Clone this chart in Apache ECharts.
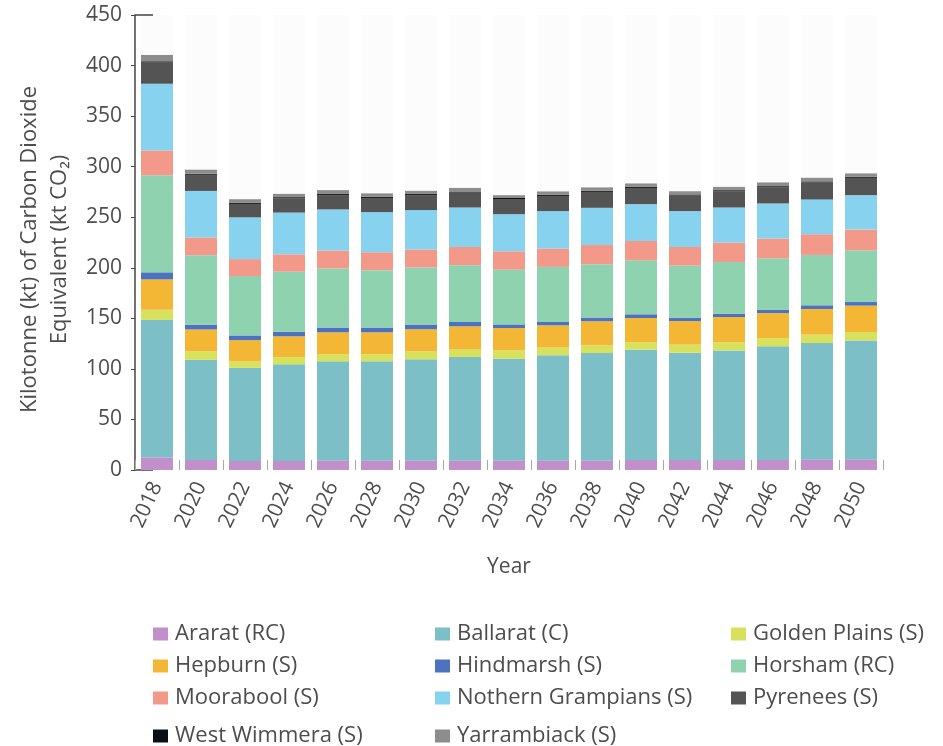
<!DOCTYPE html>
<html>
<head>
<meta charset="utf-8">
<script src="https://cdn.jsdelivr.net/npm/echarts@6/dist/echarts.min.js"></script>
<style>
  html, body { margin: 0; padding: 0; background: #fff; }
  #main { width: 943px; height: 746px; }
</style>
</head>
<body>
<div id="main"></div>
<script>
const years = ["2018", "2020", "2022", "2024", "2026", "2028", "2030", "2032", "2034",
  "2036", "2038", "2040", "2042", "2044", "2046", "2048", "2050"];

const ararat = [12.5, 10, 9, 9, 9.5, 9.5, 9.5, 9.5, 9.5, 9.5, 9.5, 10, 10, 10, 10, 10.5, 10.5];
const ballarat = [136, 99, 92, 95.5, 98, 98, 100, 102.3, 100.7, 104, 106.2, 109, 106, 108.3, 112.3, 115, 117.7];
const goldenPlains = [10, 8.3, 6.6, 7.2, 7, 7, 7.9, 7.3, 8.2, 7.6, 7.7, 7.5, 8, 8.2, 8.2, 8.4, 8.2];
const hepburn = [30, 21.7, 20.8, 20.5, 21.7, 21.7, 21.8, 23, 22, 22, 23.7, 23.8, 23.3, 24.8, 24.7, 25.3, 26.2];
const hindmarsh = [7, 4.8, 4.7, 4.5, 4.7, 4.7, 4.7, 4.3, 3.6, 3.3, 3.7, 3.7, 3.4, 3.4, 3.4, 3.7, 3.5];
const horsham = [96, 68.6, 58.7, 59.4, 58.4, 56.7, 56.4, 56.2, 54.2, 54.5, 52.8, 53.4, 51.5, 51, 50.8, 49.8, 51.2];
const moorabool = [24.5, 17.6, 16.8, 17.2, 17.8, 17.8, 17.8, 18, 18.1, 18.2, 18.9, 19.1, 18.4, 19.3, 19.5, 20.5, 20.5];
const northernGrampians = [66, 46, 41.3, 41.3, 40.6, 39.7, 39, 39, 36.7, 37, 36.8, 36.4, 35.4, 34.6, 34.7, 34.3, 34];
const pyrenees = [21, 16, 13.3, 14.2, 14.2, 14, 14.8, 14.8, 15, 15, 15.8, 16.1, 15.5, 16.1, 16.1, 16.9, 17.2];
const westWimmera = [1.2, 1, 1, 1, 1, 1, 1, 1, 1, 1, 1, 1, 1, 1, 1, 1, 1];
const yarrambiack = [6.3, 4, 3.6, 3.3, 3.9, 3.5, 3.2, 3.6, 2.8, 3.4, 3.4, 3.4, 3.2, 3.3, 3.7, 3.6, 3.3];

const seriesNames = ["Ararat (RC)", "Ballarat (C)", "Golden Plains (S)", "Hepburn (S)", "Hindmarsh (S)",
  "Horsham (RC)", "Moorabool (S)", "Nothern Grampians (S)", "Pyrenees (S)", "West Wimmera (S)", "Yarrambiack (S)"];
const seriesData = [ararat, ballarat, goldenPlains, hepburn, hindmarsh, horsham, moorabool,
  northernGrampians, pyrenees, westWimmera, yarrambiack];
const colors = ["#c18fc9", "#7dbfc7", "#d7e15c", "#f3b635", "#4d72c0", "#8fd2b0", "#f3998a",
  "#87d2ee", "#545454", "#0c1014", "#8d8d8d"];

const yTicks = { min: 0, max: 450, interval: 50 };

// layout
const GRID_LEFT = 135, GRID_TOP = 15, GRID_W = 748, GRID_H = 455;
const FONT = "Open Sans";
const TEXT = "#4d4d4d";
const legendCols = [148, 430, 726];
const legendRows = [618, 650, 682, 720];

let myChart = echarts.init(document.querySelector("#main"));

let option = {
  backgroundColor: "#fff",
  color: colors,
  textStyle: { fontFamily: FONT },
  grid: { left: GRID_LEFT, top: GRID_TOP, width: GRID_W, height: GRID_H },
  legend: seriesNames.map((n, i) => ({
    data: [n],
    left: legendCols[i % 3],
    top: legendRows[Math.floor(i / 3)],
    icon: "rect",
    itemWidth: 15,
    itemHeight: 13,
    itemGap: 0,
    selectedMode: false,
    textStyle: { fontSize: 22, color: TEXT, fontFamily: FONT, padding: [0, 0, 0, 2] },
  })),
  xAxis: {
    type: "category",
    data: years,
    name: "Year",
    nameLocation: "middle",
    nameGap: 87,
    nameTextStyle: { fontSize: 21, color: TEXT, fontFamily: FONT },
    axisLine: { show: false },
    axisTick: { show: true, inside: true, length: 10, lineStyle: { color: "#a8a8a8" } },
    axisLabel: { rotate: 65, margin: 13, fontSize: 21, color: TEXT, fontFamily: FONT },
  },
  yAxis: {
    type: "value",
    min: yTicks.min,
    max: yTicks.max,
    interval: yTicks.interval,
    name: "Kilotonne (kt) of Carbon Dioxide\nEquivalent (kt CO\u2082)",
    nameLocation: "middle",
    nameGap: 60,
    nameTextStyle: { fontSize: 22, lineHeight: 30, color: TEXT, fontFamily: FONT, padding: [0, 14, 0, 0] },
    axisLine: { show: true, lineStyle: { color: "#444", width: 1.5 } },
    axisTick: { show: true, length: 4, lineStyle: { color: "#444" } },
    splitLine: { show: false },
    axisLabel: { margin: 13, fontSize: 21, color: TEXT, fontFamily: FONT },
  },
  graphic: [
    { type: "line", shape: { x1: GRID_LEFT, y1: GRID_TOP, x2: GRID_LEFT + 18, y2: GRID_TOP }, style: { stroke: "#444", lineWidth: 1.5 } },
    { type: "line", shape: { x1: GRID_LEFT, y1: GRID_TOP + GRID_H, x2: GRID_LEFT + 18, y2: GRID_TOP + GRID_H }, style: { stroke: "#444", lineWidth: 1.5 } },
  ],
  series: seriesNames.map((n, i) => ({
    name: n,
    type: "bar",
    stack: "total",
    barWidth: 32,
    data: seriesData[i],
    showBackground: i === 0,
    backgroundStyle: { color: "rgba(0,0,0,0.012)" },
  })),
};
myChart.setOption(option);
window.addEventListener("resize", () => {
  myChart.resize();
});
</script>
</body>
</html>
